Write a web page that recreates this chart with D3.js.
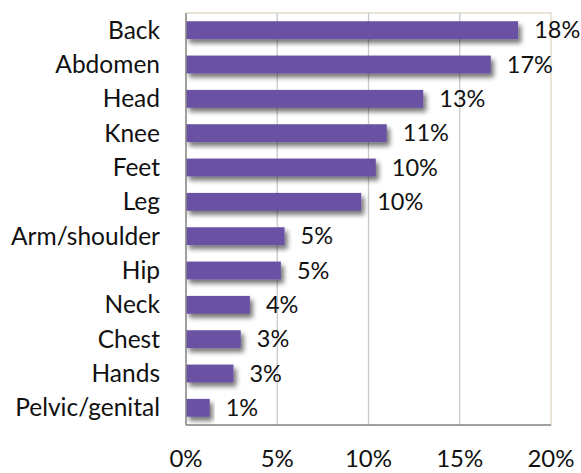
<!DOCTYPE html>
<html><head><meta charset="utf-8">
<script src="https://cdn.jsdelivr.net/npm/d3@7"></script>
<style>body{margin:0;background:#fff}svg{display:block}text{font-family:Lato,"Open Sans",sans-serif;fill:#111}</style>
</head><body><svg id="c" width="581" height="473"></svg>
<script>
const categories = ["Back","Abdomen","Head","Knee","Feet","Leg","Arm/shoulder","Hip","Neck","Chest","Hands","Pelvic/genital"];
const values = [18.2,16.7,13.0,11.0,10.4,9.6,5.4,5.2,3.5,3.0,2.6,1.3];
const valueLabels = ["18%","17%","13%","11%","10%","10%","5%","5%","4%","3%","3%","1%"];
const ticks = [0,5,10,15,20];

const svg = d3.select("#c");
const L=186, R=551, T=13, B=425;
const x = d3.scaleLinear().domain([0,20]).range([L,R]);
const y = d3.scaleBand().domain(categories).range([T,B]).paddingInner(0.48).paddingOuter(0.24);

const defs = svg.append("defs");
const f = defs.append("filter").attr("id","sh").attr("x","-10%").attr("y","-50%").attr("width","130%").attr("height","250%");
f.append("feGaussianBlur").attr("in","SourceAlpha").attr("stdDeviation",2.5).attr("result","b");
f.append("feOffset").attr("in","b").attr("dx",3).attr("dy",4).attr("result","o");
f.append("feComponentTransfer").attr("in","o").attr("result","o2").append("feFuncA").attr("type","linear").attr("slope",0.55);
const m = f.append("feMerge"); m.append("feMergeNode").attr("in","o2"); m.append("feMergeNode").attr("in","SourceGraphic");

svg.append("rect").attr("x",L).attr("y",T).attr("width",R-L).attr("height",B-T).attr("fill","#fff").attr("stroke","#e2dcc8").attr("stroke-width",1.5);
svg.append("g").selectAll("line").data(ticks.filter(t=>t>0&&t<20)).join("line")
  .attr("x1",d=>x(d)).attr("x2",d=>x(d)).attr("y1",T).attr("y2",B).attr("stroke","#c8c8c8").attr("stroke-width",1.3);

svg.append("g").selectAll("rect").data(values).join("rect")
  .attr("x",x(0)).attr("y",(d,i)=>y(categories[i])).attr("width",d=>x(d)-x(0)).attr("height",y.bandwidth())
  .attr("fill","#6A51A3").attr("filter","url(#sh)");

svg.append("line").attr("x1",L).attr("x2",L).attr("y1",T).attr("y2",B).attr("stroke","#8a8a8a").attr("stroke-width",1.5);
svg.append("line").attr("x1",L).attr("x2",R).attr("y1",B).attr("y2",B).attr("stroke","#8a8a8a").attr("stroke-width",1.5);

svg.append("g").selectAll("text").data(categories).join("text")
  .attr("x",160).attr("y",d=>y(d)+y.bandwidth()/2).attr("dy","0.35em").attr("text-anchor","end")
  .attr("font-size",24.5).text(d=>d);

svg.append("g").selectAll("text").data(values).join("text")
  .attr("x",d=>x(d)+16).attr("y",(d,i)=>y(categories[i])+y.bandwidth()/2).attr("dy","0.35em")
  .attr("font-size",23.5).text((d,i)=>valueLabels[i]);

svg.append("g").selectAll("text").data(ticks).join("text")
  .attr("x",d=>x(d)).attr("y",459).attr("dy","0.35em").attr("text-anchor","middle")
  .attr("font-size",24).text(d=>d+"%");
</script></body></html>
